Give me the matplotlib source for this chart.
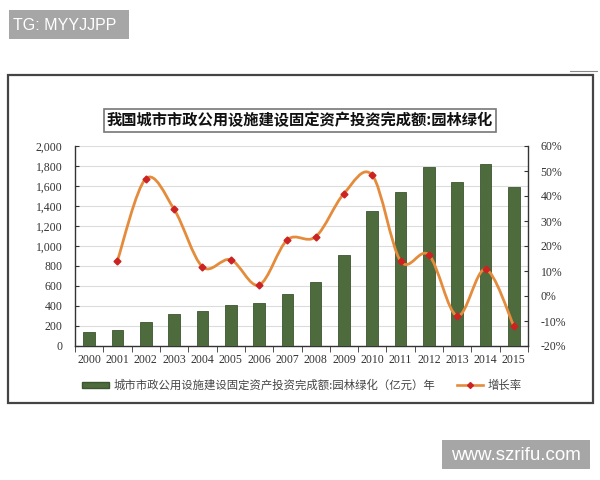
import numpy as np
import matplotlib
matplotlib.use('Agg')
import matplotlib.pyplot as plt
from matplotlib.path import Path
from matplotlib.patches import PathPatch, Rectangle, Patch
from matplotlib.lines import Line2D

plt.rcParams['font.family'] = ['Noto Sans CJK SC', 'DejaVu Sans']

# 数据
years = ['2000', '2001', '2002', '2003', '2004', '2005', '2006', '2007',
         '2008', '2009', '2010', '2011', '2012', '2013', '2014', '2015']
invest = [140, 160, 237, 317, 353, 410, 427, 517,
          643, 910, 1350, 1540, 1793, 1643, 1817, 1587]
growth_years = years[1:]
growth = [14.2, 46.9, 34.7, 11.7, 14.5, 4.4, 22.5,
          23.7, 41.0, 48.3, 14.0, 16.4, -8.0, 10.7, -12.0]

title = '我国城市市政公用设施建设固定资产投资完成额:园林绿化'
bar_label = '城市市政公用设施建设固定资产投资完成额:园林绿化（亿元）年'
line_label = '增长率'

W, H = 600, 480
fig = plt.figure(figsize=(6, 4.8), dpi=100)


def fx(px):
    return px / W


def fy(py):
    return 1 - py / H


# 外框
fig.patches.append(Rectangle((fx(8), fy(403)), fx(593) - fx(8), fy(75) - fy(403),
                             transform=fig.transFigure, fill=False,
                             edgecolor='#444444', linewidth=1.6))
fig.add_artist(Line2D([fx(570), fx(597)], [fy(71), fy(71)], color='#888888', lw=0.8))

# 主图
ax = fig.add_axes([fx(75), fy(346), fx(528) - fx(75), fy(146) - fy(346)])
x = np.arange(len(years))
ax.bar(x, invest, width=0.41, color='#4d6b3c', edgecolor='#3b552e', linewidth=0.6, zorder=3)
ax.set_xlim(-0.5, len(years) - 0.5)
ax.set_ylim(0, 2000)
ax.set_yticks(range(0, 2001, 200))
ax.set_yticklabels(['{:,}'.format(v) for v in range(0, 2001, 200)])
ax.yaxis.grid(True, color='#dcdcdc', linewidth=0.8, zorder=0)
ax.set_xticks(x)
ax.set_xticklabels(years)
ax.set_xticks(np.arange(-0.5, len(years)), minor=True)
ax.tick_params(axis='x', which='major', length=0, pad=6)
ax.tick_params(axis='x', which='minor', length=4, direction='out', color='#333333')
ax.tick_params(axis='y', length=3, direction='in', color='#333333', pad=9)
for sp in ['top', 'right']:
    ax.spines[sp].set_visible(False)
for sp in ['left', 'bottom']:
    ax.spines[sp].set_color('#333333')
    ax.spines[sp].set_linewidth(1.0)

ax2 = ax.twinx()
ax2.set_ylim(-20, 60)
ax2.set_yticks(range(-20, 61, 10))
ax2.set_yticklabels(['{}%'.format(v) for v in range(-20, 61, 10)])
ax2.tick_params(axis='y', length=3, direction='in', color='#333333', pad=9)
for sp in ['top', 'left', 'bottom']:
    ax2.spines[sp].set_visible(False)
ax2.spines['right'].set_color('#333333')
ax2.spines['right'].set_linewidth(1.0)

for a in (ax, ax2):
    for lab in a.get_xticklabels() + a.get_yticklabels():
        lab.set_fontfamily('Liberation Serif')
        lab.set_fontsize(8.5)
        lab.set_color('#333333')

# 平滑曲线 (Catmull-Rom -> Bezier)
gx = np.arange(1, len(years), dtype=float)
gy = np.array(growth, dtype=float)
P = np.column_stack([gx, gy])
n = len(P)
verts = [tuple(P[0])]
codes = [Path.MOVETO]
for i in range(n - 1):
    p0 = P[i - 1] if i > 0 else P[i]
    p1 = P[i]
    p2 = P[i + 1]
    p3 = P[i + 2] if i + 2 < n else P[i + 1]
    c1 = p1 + (p2 - p0) / 6.0
    c2 = p2 - (p3 - p1) / 6.0
    verts += [tuple(c1), tuple(c2), tuple(p2)]
    codes += [Path.CURVE4] * 3
ax2.add_patch(PathPatch(Path(verts, codes), facecolor='none',
                        edgecolor='#e58c3c', linewidth=2.0, zorder=4))
ax2.plot(gx, gy, linestyle='none', marker='D', markersize=3.5,
         color='#cc2222', zorder=5)

# 标题框
fig.text(fx(300), fy(120.5), title, ha='center', va='center',
         fontsize=11, fontweight='bold', color='#111111',
         bbox=dict(boxstyle='square,pad=0.2', facecolor='white',
                   edgecolor='#777777', linewidth=1.2))

# 图例
handles = [Patch(facecolor='#4d6b3c', edgecolor='#3b552e'),
           Line2D([0], [0], color='#e58c3c', lw=1.9, marker='D',
                  markersize=3, markerfacecolor='#cc2222', markeredgecolor='#cc2222')]
leg = fig.legend(handles, [bar_label, line_label], loc='center',
                 bbox_to_anchor=(fx(302), fy(385)), ncol=2, frameon=False,
                 fontsize=8.2, handlelength=2.3, handleheight=0.45,
                 columnspacing=1.9, handletextpad=0.4)
for t in leg.get_texts():
    t.set_color('#444444')

# 水印
fig.patches.append(Rectangle((fx(9), fy(39)), fx(129) - fx(9), fy(10) - fy(39),
                             transform=fig.transFigure, facecolor='#a6a6a6',
                             edgecolor='none'))
fig.text(fx(13), fy(25), 'TG: MYYJJPP', ha='left', va='center',
         fontsize=11.5, color='white', fontfamily='Liberation Sans')
fig.patches.append(Rectangle((fx(442), fy(469)), fx(590) - fx(442), fy(440) - fy(469),
                             transform=fig.transFigure, facecolor='#a6a6a6',
                             edgecolor='none'))
fig.text(fx(516), fy(455), 'www.szrifu.com', ha='center', va='center',
         fontsize=13.5, color='white', fontfamily='Liberation Sans')

fig.savefig('out.png', dpi=100, facecolor='white')
